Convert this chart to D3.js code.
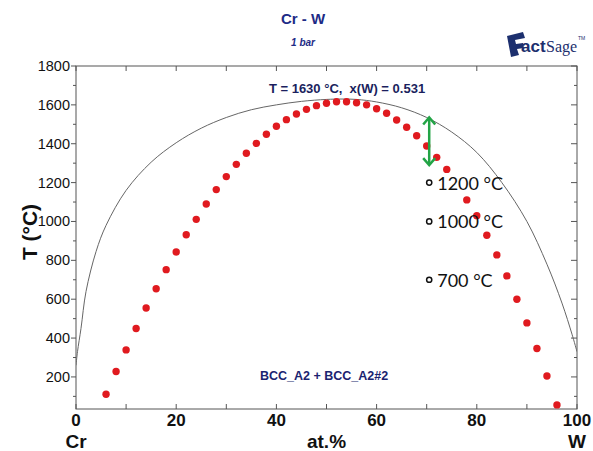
<!DOCTYPE html>
<html>
<head>
<meta charset="utf-8">
<script src="https://cdn.jsdelivr.net/npm/d3@7"></script>
<style>
body { margin: 0; background: white; }
text { font-family: "Liberation Sans", Arial, sans-serif; }
</style>
</head>
<body>
<div id="chart"></div>
<script>
//composition in at.% W and temperature in °C
var dotX = [6, 8, 10, 12, 14, 16, 18, 20, 22, 24, 26, 28, 30, 32, 34, 36, 38, 40, 42, 44, 46, 48,
	50, 52, 54, 56, 58, 60, 62, 64, 66, 68, 70, 72, 74, 78, 80, 82, 84, 86, 88, 90, 92, 94, 96]
var dotT = [111, 228, 339, 449, 555, 654, 752, 843, 932, 1011, 1090, 1164, 1231, 1294, 1351, 1402, 1449, 1490, 1524, 1553, 1577, 1596,
	1608, 1616, 1616, 1611, 1600, 1580, 1557, 1522, 1485, 1441, 1388, 1330, 1268, 1111, 1030, 929, 828, 720, 600, 478, 346, 205, 56]

//miscibility gap (calculated line)
var curveX = [0, 0.3, 1, 2, 4, 6, 10, 15, 20, 25, 30, 35, 40, 45, 50, 53.1, 56, 60, 65, 70, 75, 80, 85, 90, 94, 97, 99, 100]
var curveT = [260, 330, 450, 640, 845, 980, 1160, 1305, 1405, 1480, 1535, 1575, 1600, 1618, 1628, 1630, 1628, 1615, 1585, 1535, 1460, 1355, 1200, 1000, 780, 580, 420, 330]

//marked temperatures
var isoX = 70.5
var isoT = [1200, 1000, 700]
var isoLabels = ["1200 °C", "1000 °C", "700 °C"]

//green arrow
var arrowX = 70.5
var arrowT = [1535, 1290]

var xTicks = [0, 20, 40, 60, 80, 100]
var xMinor = [10, 30, 50, 70, 90]
var yTicks = [200, 400, 600, 800, 1000, 1200, 1400, 1600, 1800]
var yMinor = [100, 300, 500, 700, 900, 1100, 1300, 1500, 1700]

var navy = "#1d2b86"

var svg = d3.select("#chart").append("svg").
	attr("width", 593).
	attr("height", 451)

var x = d3.scaleLinear().domain([0, 100]).range([76, 577])
var y = d3.scaleLinear().domain([35, 1800]).range([409, 66])

//ticks
var tickG = svg.append("g").style("stroke", "#555").style("stroke-width", 1)
xTicks.concat(xMinor).forEach(function(v){
	tickG.append("line").attr("x1", x(v)).attr("x2", x(v)).attr("y1", 409).attr("y2", 404)
	tickG.append("line").attr("x1", x(v)).attr("x2", x(v)).attr("y1", 66).attr("y2", 71)
})
yTicks.forEach(function(v){
	tickG.append("line").attr("x1", 76).attr("x2", 71).attr("y1", y(v)).attr("y2", y(v))
	tickG.append("line").attr("x1", 577).attr("x2", 571).attr("y1", y(v)).attr("y2", y(v))
})
yMinor.forEach(function(v){
	tickG.append("line").attr("x1", 76).attr("x2", 73).attr("y1", y(v)).attr("y2", y(v))
	tickG.append("line").attr("x1", 577).attr("x2", 574).attr("y1", y(v)).attr("y2", y(v))
})

//frame
svg.append("rect").
	attr("x", 76).
	attr("y", 66).
	attr("width", 501).
	attr("height", 343).
	style("fill", "none").
	style("stroke", "#555").
	style("stroke-width", 1)

//tick labels
svg.selectAll(".ylab").
	data(yTicks).
	enter().
	append("text").
	attr("x", 70).
	attr("y", function(d){ return y(d) + 5 }).
	attr("text-anchor", "end").
	style("font-size", "14.5px").
	style("fill", "#111").
	text(function(d){ return d })

svg.selectAll(".xlab").
	data(xTicks).
	enter().
	append("text").
	attr("x", function(d){ return x(d) }).
	attr("y", 426).
	attr("text-anchor", "middle").
	style("font-size", "17px").
	style("font-weight", "bold").
	style("fill", "#111").
	text(function(d){ return d })

var bottomLabels = [["Cr", 0], ["at.%", 50], ["W", 100]]
bottomLabels.forEach(function(b){
	svg.append("text").
		attr("x", x(b[1])).
		attr("y", 447.5).
		attr("text-anchor", "middle").
		style("font-size", "19px").
		style("font-weight", "bold").
		style("fill", "#111").
		text(b[0])
})

svg.append("text").
	attr("transform", "translate(37,232) rotate(-90)").
	attr("text-anchor", "middle").
	style("font-size", "21px").
	style("font-weight", "bold").
	style("fill", "#111").
	text("T (°C)")

//clip to the plot
svg.append("clipPath").attr("id", "plot").
	append("rect").attr("x", 76).attr("y", 66).attr("width", 501).attr("height", 343)

var pts = curveX.map(function(v, i){ return [v, curveT[i]] })
var line = d3.line().
	x(function(d){ return x(d[0]) }).
	y(function(d){ return y(d[1]) }).
	curve(d3.curveCatmullRom.alpha(0.5))

svg.append("path").
	attr("d", line(pts)).
	attr("clip-path", "url(#plot)").
	style("fill", "none").
	style("stroke", "#666").
	style("stroke-width", 1)

//red dots
svg.selectAll(".dot").
	data(dotX).
	enter().
	append("circle").
	attr("cx", function(d){ return x(d) }).
	attr("cy", function(d, i){ return y(dotT[i]) }).
	attr("r", 3.7).
	style("fill", "#e01a1f")

//green double arrow
var ax = x(arrowX), a1 = y(arrowT[0]), a2 = y(arrowT[1])
var green = "#23a446"
svg.append("line").
	attr("x1", ax).attr("x2", ax).attr("y1", a1 + 1).attr("y2", a2 - 1).
	style("stroke", green).style("stroke-width", 2.5)
svg.append("path").
	attr("d", "M" + (ax - 6) + "," + (a1 + 7) + "L" + ax + "," + a1 + "L" + (ax + 6) + "," + (a1 + 7) +
		"M" + (ax - 6) + "," + (a2 - 7) + "L" + ax + "," + a2 + "L" + (ax + 6) + "," + (a2 - 7)).
	style("fill", "none").
	style("stroke", green).
	style("stroke-width", 2.5)

//isotherm markers
svg.selectAll(".iso").
	data(isoT).
	enter().
	append("circle").
	attr("cx", x(isoX)).
	attr("cy", function(d){ return y(d) }).
	attr("r", 2.6).
	style("fill", "white").
	style("stroke", "#111").
	style("stroke-width", 1.5)

svg.selectAll(".isolab").
	data(isoT).
	enter().
	append("text").
	attr("x", x(isoX) + 8).
	attr("y", function(d){ return y(d) + 7 }).
	style("font-family", "Lato, 'Open Sans', sans-serif").
	style("font-size", "18px").
	style("fill", "#111").
	text(function(d, i){ return isoLabels[i] })

//annotations
svg.append("text").
	attr("x", 347).
	attr("y", 93).
	attr("text-anchor", "middle").
	attr("xml:space", "preserve").
	style("white-space", "pre").
	style("font-size", "13px").
	style("font-weight", "bold").
	style("fill", "#1b1f5e").
	text("T = 1630 °C,  x(W) = 0.531")

svg.append("text").
	attr("x", 324).
	attr("y", 380).
	attr("text-anchor", "middle").
	style("font-size", "12.5px").
	style("font-weight", "bold").
	style("fill", "#1b2370").
	text("BCC_A2 + BCC_A2#2")

//title
svg.append("text").
	attr("x", 303).
	attr("y", 24).
	attr("text-anchor", "middle").
	style("font-size", "15px").
	style("font-weight", "bold").
	style("fill", navy).
	text("Cr - W")

svg.append("text").
	attr("x", 303).
	attr("y", 46).
	attr("text-anchor", "middle").
	style("font-size", "10px").
	style("font-weight", "bold").
	style("font-style", "italic").
	style("fill", navy).
	text("1 bar")

//FactSage logo
var logo = svg.append("g").attr("transform", "translate(505,32)")
logo.append("path").
	attr("d", "M2,4 L18,0 L20,6 L10,8 L11,12 L18,11 L19,16 L12,17 L14,23 L6,25 Z").
	style("fill", "#1c2f6e")
logo.append("text").
	attr("x", 16).
	attr("y", 20).
	style("font-size", "17px").
	style("font-weight", "bold").
	style("fill", "#1c2f6e").
	text("act")
logo.append("text").
	attr("x", 41).
	attr("y", 20).
	style("font-family", "'Liberation Serif', 'DejaVu Serif', serif").
	style("font-size", "16px").
	style("fill", "#1c2f6e").
	text("Sage")
logo.append("text").
	attr("x", 73).
	attr("y", 8).
	style("font-size", "5px").
	style("fill", "#1c2f6e").
	text("TM")
</script>
</body>
</html>
